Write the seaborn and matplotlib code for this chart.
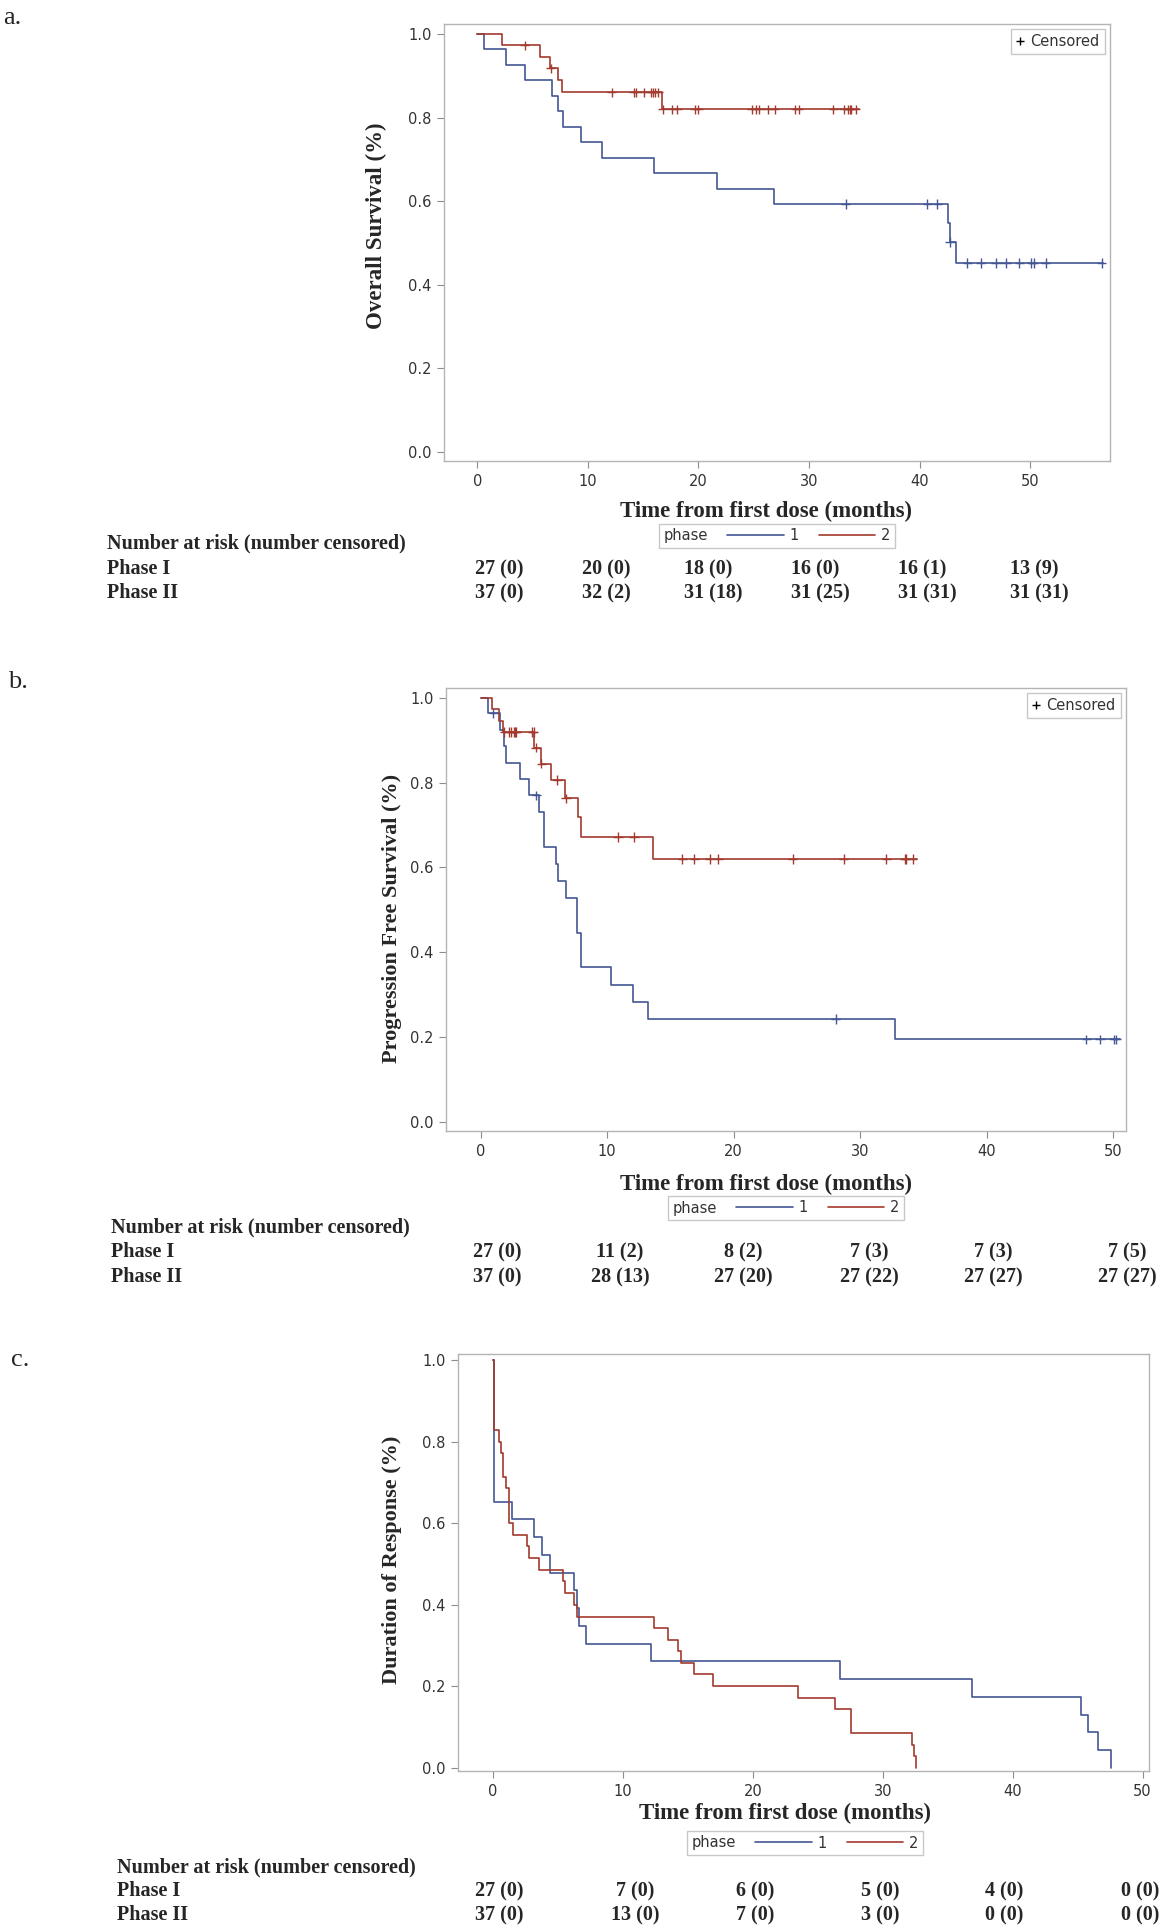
import numpy as np
import pandas as pd
import matplotlib
matplotlib.use('Agg')
import matplotlib.pyplot as plt
import seaborn as sns
from matplotlib.lines import Line2D
from matplotlib.ticker import FormatStrFormatter

# ---------------- data ----------------
# a. overall survival
os_t1 = [0, 0.6, 2.6, 4.3, 6.8, 7.3, 7.8, 9.4, 11.3, 16.0, 21.7, 26.8, 42.55, 42.7, 43.3]
os_s1 = [1.0, 0.963, 0.926, 0.889, 0.852, 0.815, 0.778, 0.741, 0.704, 0.667, 0.630, 0.593, 0.547, 0.502, 0.452]
os_c1 = [33.3, 40.7, 41.6, 42.75, 44.3, 45.5, 46.9, 47.8, 49.0, 50.1, 50.3, 51.4, 56.45]
os_end1 = 56.6
os_t2 = [0, 2.25, 5.7, 6.55, 7.3, 7.7, 16.7]
os_s2 = [1.0, 0.973, 0.946, 0.918, 0.889, 0.860, 0.820]
os_c2 = [4.3, 6.65, 12.15, 14.15, 14.4, 15.1, 15.7, 15.85, 16.05, 16.35, 16.8, 17.65, 18.1,
         19.7, 20.0, 24.8, 25.2, 25.5, 26.3, 26.9, 28.75, 29.05, 32.2, 33.15, 33.55, 33.7,
         33.8, 34.2]
os_end2 = 34.5

# b. progression free survival
pfs_t1 = [0, 0.58, 1.5, 1.84, 1.97, 3.08, 3.82, 4.58, 4.98, 5.92, 6.11, 6.77, 7.61, 7.9,
          10.28, 12.06, 13.26, 32.74]
pfs_s1 = [1.0, 0.963, 0.924, 0.886, 0.847, 0.809, 0.770, 0.730, 0.649, 0.608, 0.568, 0.527,
          0.446, 0.365, 0.324, 0.284, 0.243, 0.195]
pfs_c1 = [1.0, 4.4, 28.06, 47.87, 48.94, 50.06, 50.23]
pfs_end1 = 50.56
pfs_t2 = [0, 0.92, 1.45, 1.76, 4.25, 4.75, 5.53, 6.69, 7.71, 7.9, 13.61]
pfs_s2 = [1.0, 0.973, 0.946, 0.919, 0.882, 0.845, 0.806, 0.763, 0.718, 0.672, 0.620]
pfs_c2 = [1.87, 2.24, 2.42, 2.61, 2.74, 2.82, 4.08, 4.2, 4.35, 4.8, 6.06, 6.75, 10.85, 12.11,
          15.93, 16.88, 18.11, 18.77, 24.67, 28.7, 32.05, 33.5, 33.6, 34.15]
pfs_end2 = 34.46

# c. duration of response (no censoring marks)
dor_t1 = [0, 0.1, 1.42, 3.17, 3.73, 4.37, 6.25, 6.5, 6.6, 7.15, 12.16, 26.7, 36.9, 45.3, 45.8,
          46.6, 47.6]
dor_s1 = [1.0, 0.652, 0.609, 0.565, 0.522, 0.478, 0.435, 0.391, 0.348, 0.304, 0.261, 0.217,
          0.174, 0.130, 0.087, 0.043, 0.0]
dor_end1 = 47.6
dor_t2 = [0, 0.1, 0.44, 0.6, 0.73, 1.0, 1.26, 1.5, 2.65, 2.78, 3.5, 5.4, 5.5, 6.2, 6.5, 12.4,
          13.45, 14.2, 14.5, 15.5, 16.9, 23.5, 26.3, 27.55, 32.25, 32.4, 32.55]
dor_s2 = [1.0, 0.829, 0.8, 0.771, 0.714, 0.686, 0.6, 0.571, 0.543, 0.514, 0.486, 0.457, 0.429,
          0.4, 0.371, 0.343, 0.314, 0.286, 0.257, 0.229, 0.2, 0.171, 0.143, 0.086, 0.057,
          0.029, 0.0]
dor_end2 = 32.55

# number at risk tables
risk_a1 = ['27 (0)', '20 (0)', '18 (0)', '16 (0)', '16 (1)', '13 (9)']
risk_a2 = ['37 (0)', '32 (2)', '31 (18)', '31 (25)', '31 (31)', '31 (31)']
risk_b1 = ['27 (0)', '11 (2)', '8 (2)', '7 (3)', '7 (3)', '7 (5)']
risk_b2 = ['37 (0)', '28 (13)', '27 (20)', '27 (22)', '27 (27)', '27 (27)']
risk_c1 = ['27 (0)', '7 (0)', '6 (0)', '5 (0)', '4 (0)', '0 (0)']
risk_c2 = ['37 (0)', '13 (0)', '7 (0)', '3 (0)', '0 (0)', '0 (0)']

W, H = 1167, 1932
pal = {1: '#445694', 2: '#a23a2e'}
SERIF = ['Liberation Serif', 'DejaVu Serif']

sns.set_theme(style='ticks')
plt.rcParams['font.family'] = ['Liberation Sans Narrow', 'DejaVu Sans']


def curve_frame(t1, s1, end1, t2, s2, end2):
    parts = []
    for ph, t, s, end in ((1, t1, s1, end1), (2, t2, s2, end2)):
        parts.append(pd.DataFrame({'time': list(t) + [end], 'surv': list(s) + [s[-1]], 'phase': ph}))
    return pd.concat(parts, ignore_index=True)


def cens_frame(t, s, ct, ph):
    idx = np.searchsorted(t, ct, side='right') - 1
    return pd.DataFrame({'time': ct, 'surv': np.array(s)[idx], 'phase': ph})


def px(x, y):
    return x / W, 1 - y / H


def ftext(x, y, s, **kw):
    fig.text(*px(x, y), s, **kw)


fig = plt.figure(figsize=(W / 100, H / 100), dpi=100)

ax_a = fig.add_axes([444 / W, 1 - 461 / H, 666 / W, 437 / H])
ax_b = fig.add_axes([446 / W, 1 - 1131 / H, 680 / W, 443 / H])
ax_c = fig.add_axes([458 / W, 1 - 1771 / H, 691 / W, 417 / H])

panels = [
    (ax_a, curve_frame(os_t1, os_s1, os_end1, os_t2, os_s2, os_end2),
     pd.concat([cens_frame(os_t1, os_s1, os_c1, 1), cens_frame(os_t2, os_s2, os_c2, 2)]),
     (-3.0, 57.2), (-0.0224, 1.024)),
    (ax_b, curve_frame(pfs_t1, pfs_s1, pfs_end1, pfs_t2, pfs_s2, pfs_end2),
     pd.concat([cens_frame(pfs_t1, pfs_s1, pfs_c1, 1), cens_frame(pfs_t2, pfs_s2, pfs_c2, 2)]),
     (-2.74, 51.0), (-0.021, 1.023)),
    (ax_c, curve_frame(dor_t1, dor_s1, dor_end1, dor_t2, dor_s2, dor_end2), None,
     (-2.7, 50.5), (-0.008, 1.015)),
]

for ax, df, cens, xl, yl in panels:
    sns.lineplot(data=df, x='time', y='surv', hue='phase', palette=pal, estimator=None,
                 sort=False, drawstyle='steps-post', linewidth=1.2, legend=False, ax=ax)
    if cens is not None:
        sns.scatterplot(data=cens, x='time', y='surv', hue='phase', palette=pal, marker='+',
                        s=45, linewidth=1.0, legend=False, ax=ax, zorder=3)
        h = [Line2D([], [], marker='+', color='black', linestyle='none', markersize=6, mew=1)]
        leg = ax.legend(h, ['Censored'], loc='upper right', handlelength=0.6, handletextpad=0.4,
                        borderpad=0.35, borderaxespad=0.35, fontsize=10.5, fancybox=False,
                        edgecolor='#c8c8c8', framealpha=1)
        leg.get_frame().set_linewidth(1)
        for t in leg.get_texts():
            t.set_color('#333333')
    ax.set_xlim(*xl)
    ax.set_ylim(*yl)
    ax.set_xticks(range(0, 51, 10))
    ax.set_yticks(np.arange(0, 1.01, 0.2))
    ax.yaxis.set_major_formatter(FormatStrFormatter('%.1f'))
    for sp in ax.spines.values():
        sp.set_visible(True)
        sp.set_color('#b4b4b4')
        sp.set_linewidth(1)
    ax.tick_params(direction='out', length=5, width=0.8, color='#8c8c8c', labelsize=10.5,
                   labelcolor='#333333', pad=4)
    ax.set_xlabel('')
    ax.set_ylabel('')


def phase_legend(cx, cy):
    h = [Line2D([], [], color=pal[1], lw=1.2), Line2D([], [], color=pal[2], lw=1.2)]
    leg = fig.legend(h, ['1', '2'], title='phase', ncol=2, loc='center',
                     bbox_to_anchor=px(cx, cy), bbox_transform=fig.transFigure,
                     fontsize=10.5, title_fontsize=10.5, handlelength=3.9, handletextpad=0.4,
                     columnspacing=0.8, borderpad=0.3, fancybox=False, edgecolor='#c8c8c8',
                     framealpha=1)
    leg.get_frame().set_linewidth(1)
    # move the title to the left of the entries, as in SAS output
    box = leg._legend_box
    title_box = box._children[0]
    hbox = box._children[1]
    box._children = [hbox]
    hbox._children = [title_box] + list(hbox._children)
    hbox.sep = 14
    leg.get_title().set_color('#333333')
    for t in leg.get_texts():
        t.set_color('#333333')


def risk_table(x0, y0, y1, y2, xs, row1, row2, ha):
    ftext(x0, y0, 'Number at risk (number censored)', family=SERIF, weight='bold',
          fontsize=14.5, va='center')
    ftext(x0, y1, 'Phase I', family=SERIF, weight='bold', fontsize=14.5, va='center')
    ftext(x0, y2, 'Phase II', family=SERIF, weight='bold', fontsize=14.5, va='center')
    for x, r1, r2 in zip(xs, row1, row2):
        ftext(x, y1, r1, family=SERIF, weight='bold', fontsize=14.5, va='center', ha=ha)
        ftext(x, y2, r2, family=SERIF, weight='bold', fontsize=14.5, va='center', ha=ha)


lab_kw = dict(family=SERIF, weight='bold', ha='center', va='center')

# panel a
ftext(3, 18, 'a.', family=SERIF, fontsize=19, va='center')
ftext(376, 226, 'Overall Survival (%)', rotation=90, fontsize=16.5, **lab_kw)
ftext(766, 511, 'Time from first dose (months)', fontsize=16.5, **lab_kw)
phase_legend(777, 536)
risk_table(107, 543, 569, 593, [475, 582, 684, 791, 898, 1010], risk_a1, risk_a2, 'left')

# panel b
ftext(8, 682, 'b.', family=SERIF, fontsize=19, va='center')
ftext(392, 918, 'Progression Free Survival (%)', rotation=90, fontsize=16, **lab_kw)
ftext(766, 1184, 'Time from first dose (months)', fontsize=16.5, **lab_kw)
phase_legend(786, 1208)
risk_table(111, 1227, 1252, 1277, [497, 620, 743, 869, 993, 1127], risk_b1, risk_b2, 'center')

# panel c
ftext(11, 1360, 'c.', family=SERIF, fontsize=19, va='center')
ftext(392, 1560, 'Duration of Response (%)', rotation=90, fontsize=16, **lab_kw)
ftext(785, 1813, 'Time from first dose (months)', fontsize=16.5, **lab_kw)
phase_legend(805, 1843)
risk_table(117, 1867, 1891, 1915, [499, 635, 755, 880, 1004, 1140], risk_c1, risk_c2, 'center')

fig.savefig('out.png', dpi=100, facecolor='white')
